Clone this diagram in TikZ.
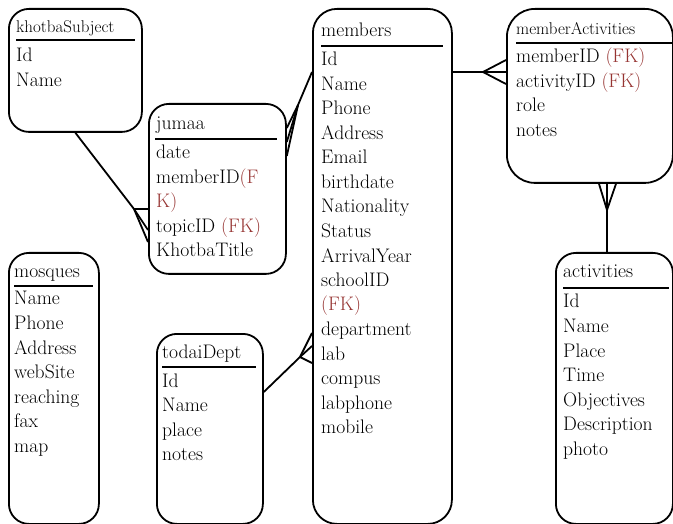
\documentclass[tikz,border=0pt]{standalone}
\usepackage{fontspec}
\definecolor{fk}{RGB}{150,52,50}
\begin{document}
\begin{tikzpicture}[x=1pt,y=-1pt,
  box/.style={draw, line width=1.8pt, rounded corners=20pt, inner sep=0pt, anchor=north west},
  fld/.style={anchor=base west, inner sep=0pt, font=\fontsize{19.6}{24.5}\selectfont},
  smt/.style={anchor=base west, inner sep=0pt, font=\fontsize{17}{21}\selectfont},
  rule/.style={line width=2pt},
  conn/.style={line width=1.8pt}]
\useasboundingbox (0,0) rectangle (673,524);

% boxes
\node[box, minimum width=133pt, minimum height=123pt] (khotba) at (8,8) {};
\node[box, minimum width=137pt, minimum height=170pt] (jumaa) at (148,103) {};
\node[box, minimum width=139pt, minimum height=515pt, rounded corners=24pt] (members) at (312,8) {};
\node[box, minimum width=166pt, minimum height=174pt, rounded corners=28pt] (memact) at (506,8) {};
\node[box, minimum width=117pt, minimum height=271pt] (activities) at (555,252) {};
\node[box, minimum width=90pt, minimum height=271pt] (mosques) at (8,252) {};
\node[box, minimum width=106pt, minimum height=190pt] (todai) at (156,333) {};

% khotbaSubject
\node[smt] (kt) at (16,33) {khotbaSubject};
\draw[rule] (16,40.5) -- (135,40.5);
\foreach \t [count=\i from 0] in {Id,Name}
  \node[fld] (k-\i) at (16,62+24.5*\i) {\t};

% jumaa
\node[fld] (jt) at (156,130) {jumaa};
\draw[rule] (155,139) -- (277,139);
\foreach \t [count=\i from 0] in {date,{memberID\textcolor{fk}{(F}},{\textcolor{fk}{K)}},{topicID \textcolor{fk}{(FK)}},KhotbaTitle}
  \node[fld] (j-\i) at (156,159+24.5*\i) {\t};

% members
\node[fld] (mt) at (321,37) {members};
\draw[rule] (321,46) -- (443,46);
\foreach \t [count=\i from 0] in {Id,Name,Phone,Address,Email,birthdate,Nationality,Status,ArrivalYear,schoolID,{\textcolor{fk}{(FK)}},department,lab,compus,labphone,mobile}
  \node[fld] (m-\i) at (321,66+24.5*\i) {\t};

% memberActivities
\node[smt] (at) at (516,35) {memberActivities};
\draw[rule] (516,43) -- (673,43);
\foreach \t [count=\i from 0] in {{memberID \textcolor{fk}{(FK)}},{activityID \textcolor{fk}{(FK)}},role,notes}
  \node[fld] (a-\i) at (516,63+24.5*\i) {\t};

% activities
\node[fld] (ct) at (563,278) {activities};
\draw[rule] (563,288) -- (669,288);
\foreach \t [count=\i from 0] in {Id,Name,Place,Time,Objectives,Description,photo}
  \node[fld] (c-\i) at (563,308+24.5*\i) {\t};

% mosques
\node[fld] (qt) at (14,277) {mosques};
\draw[rule] (14,286) -- (93,286);
\foreach \t [count=\i from 0] in {Name,Phone,Address,webSite,reaching,fax,map}
  \node[fld] (q-\i) at (14,305+24.5*\i) {\t};

% todaiDept
\node[fld] (tt) at (162,358) {todaiDept};
\draw[rule] (162,367) -- (256,367);
\foreach \t [count=\i from 0] in {Id,Name,place,notes}
  \node[fld] (t-\i) at (162,387+24.5*\i) {\t};

% connectors
\coordinate (cf1) at (134,209);
\draw[conn] (khotba.south) -- (cf1);
\draw[conn] (cf1) -- (jumaa.west |- 0,209);
\draw[conn] (cf1) -- (jumaa.west |- 0,230);
\draw[conn] (cf1) -- (jumaa.west |- 0,242);

\coordinate (cf2) at (298,105);
\draw[conn] (members.west |- 0,72) -- (cf2);
\draw[conn] (cf2) -- (jumaa.east |- 0,128);
\draw[conn] (cf2) -- (jumaa.east |- 0,142);
\draw[conn] (cf2) -- (jumaa.east |- 0,156);

\coordinate (cf3) at (483,72);
\draw[conn] (members.east |- cf3) -- (cf3);
\draw[conn] (cf3) -- (memact.west |- 0,60);
\draw[conn] (cf3) -- (memact.west |- 0,72);
\draw[conn] (cf3) -- (memact.west |- 0,84);

\coordinate (cf4) at (607,210);
\draw[conn] (activities.north -| cf4) -- (cf4);
\draw[conn] (cf4) -- (memact.south -| 599,0);
\draw[conn] (cf4) -- (memact.south -| 607,0);
\draw[conn] (cf4) -- (memact.south -| 616,0);

\coordinate (cf5) at (300,357);
\draw[conn] (todai.east |- 0,392) -- (cf5);
\draw[conn] (cf5) -- (members.west |- 0,333);
\draw[conn] (cf5) -- (members.west |- 0,346);
\draw[conn] (cf5) -- (members.west |- 0,363);
\end{tikzpicture}
\end{document}
